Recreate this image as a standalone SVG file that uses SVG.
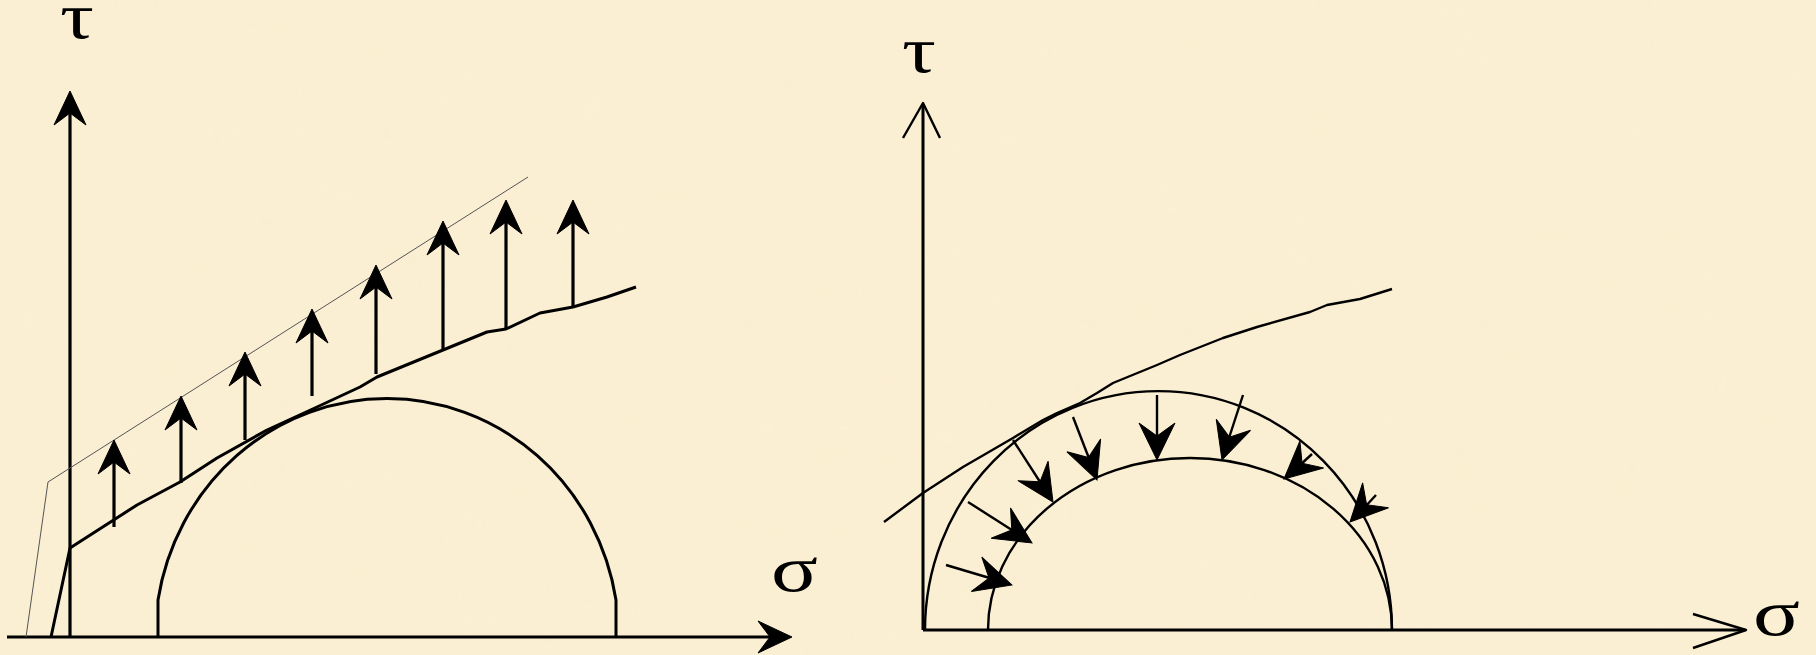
<svg xmlns="http://www.w3.org/2000/svg" width="1816" height="655" viewBox="0 0 1816 655">
<style>
.ln{fill:none;stroke:#000;stroke-linejoin:round;stroke-linecap:butt}
.ax{stroke-width:3.2}
.th{stroke-width:3}
.tn{stroke-width:2.4}
.thin{fill:none;stroke:#555;stroke-width:1}
.hd{fill:#000;stroke:#000;stroke-width:1;stroke-linejoin:miter}
.lbl{font-family:"Liberation Serif","Times New Roman",serif;font-size:66px;fill:#000}
</style>
<defs>
<path id="head" d="M0,0 L-34,-16 L-22,0 L-34,16 Z"/>
<path id="headR" d="M0,0 L-37,-18 L-24,0 L-37,18 Z"/>
<filter id="tex" x="0" y="0" width="100%" height="100%">
<feTurbulence type="fractalNoise" baseFrequency="0.012" numOctaves="3" seed="4"/>
<feColorMatrix type="matrix" values="0 0 0 0 0.93  0 0 0 0 0.84  0 0 0 0 0.66  0 0 0 0.9 -0.35"/>
</filter>
</defs>
<rect width="1816" height="655" fill="#FBEFD3"/>
<rect width="1816" height="655" filter="url(#tex)" opacity="0.5"/>

<g id="left-diagram">
<g id="left-axes">
<line class="ln ax" x1="7" y1="637" x2="775" y2="637"/>
<use href="#head" class="hd" transform="translate(792,637)"/>
<line class="ln ax" x1="70" y1="637" x2="70" y2="110"/>
<use href="#head" class="hd" transform="translate(70,91) rotate(-90)"/>
<text class="lbl" transform="translate(60,38) scale(1.28,1)">τ</text>
<text class="lbl" transform="translate(771,591) scale(1.32,1)">σ</text>
</g>
<g id="left-thin-envelope">
<polyline class="thin" points="26,637 48,482 528,177"/>
</g>
<g id="left-envelope">
<polyline class="ln th" points="51,637 70,548 137,505 180,482 217,458 267,430 317,407 360,387 377,377 443,350 487,332 506,329 540,313 573,307 607,297 636,287"/>
</g>
<g id="left-circle">
<path class="ln th" d="M158,637 V600 A232,240 0 0 1 616,600 V637"/>
</g>
<g id="left-arrows">
<line class="ln ax" x1="114" y1="527" x2="114" y2="460"/><use href="#head" class="hd" transform="translate(114,440) rotate(-90)"/>
<line class="ln ax" x1="181" y1="483" x2="181" y2="416"/><use href="#head" class="hd" transform="translate(181,396) rotate(-90)"/>
<line class="ln ax" x1="245" y1="440" x2="245" y2="372"/><use href="#head" class="hd" transform="translate(245,352) rotate(-90)"/>
<line class="ln ax" x1="312" y1="396" x2="312" y2="329"/><use href="#head" class="hd" transform="translate(312,309) rotate(-90)"/>
<line class="ln ax" x1="376" y1="374" x2="376" y2="285"/><use href="#head" class="hd" transform="translate(376,265) rotate(-90)"/>
<line class="ln ax" x1="443" y1="351" x2="443" y2="241"/><use href="#head" class="hd" transform="translate(443,221) rotate(-90)"/>
<line class="ln ax" x1="506" y1="329" x2="506" y2="220"/><use href="#head" class="hd" transform="translate(506,200) rotate(-90)"/>
<line class="ln ax" x1="573" y1="307" x2="573" y2="220"/><use href="#head" class="hd" transform="translate(573,200) rotate(-90)"/>
</g>
</g>

<g id="right-diagram">
<g id="right-axes">
<polyline class="ln th" points="923,630 923,104"/>
<polyline class="ln tn" points="903,138 923,103 940,138"/>
<polyline class="ln th" points="923,630 1745,630"/>
<polyline class="ln tn" points="1693,614 1746,630 1693,648"/>
<text class="lbl" transform="translate(902,72) scale(1.28,1)">τ</text>
<text class="lbl" transform="translate(1753,635) scale(1.32,1)">σ</text>
</g>
<g id="right-envelope">
<polyline class="ln tn" points="884,522 923,493 963,467 1013,438 1043,420 1057,413 1080,403 1097,393 1113,383 1157,365 1180,355 1223,338 1257,327 1310,312 1327,305 1360,299 1392,289"/>
</g>
<g id="right-outer-circle">
<path class="ln tn" d="M925,630 A233.5,239 0 0 1 1392,630"/>
</g>
<g id="right-inner-circle">
<path class="ln tn" d="M988,630 A202,172 0 0 1 1392,630"/>
</g>
<g id="right-arrows">
<line class="ln tn" x1="1013" y1="440" x2="1042" y2="485"/><use href="#headR" class="hd" transform="translate(1053,502) rotate(57.2)"/>
<line class="ln tn" x1="1073" y1="417" x2="1090" y2="461"/><use href="#headR" class="hd" transform="translate(1097,480) rotate(69.1)"/>
<line class="ln tn" x1="1157" y1="395" x2="1157" y2="440"/><use href="#headR" class="hd" transform="translate(1157,460) rotate(90)"/>
<line class="ln tn" x1="1243" y1="395" x2="1228" y2="441"/><use href="#headR" class="hd" transform="translate(1222,460) rotate(107.9)"/>
<line class="ln tn" x1="1312" y1="454" x2="1299" y2="466"/><use href="#headR" class="hd" transform="translate(1284,479) rotate(138.7)"/>
<line class="ln tn" x1="1376" y1="495" x2="1364" y2="508"/><use href="#headR" class="hd" transform="translate(1350,522) rotate(133.8)"/>
<line class="ln tn" x1="968" y1="502" x2="1015" y2="532"/><use href="#headR" class="hd" transform="translate(1032,543) rotate(32.6)"/>
<line class="ln tn" x1="946" y1="565" x2="993" y2="579"/><use href="#headR" class="hd" transform="translate(1012,585) rotate(16.9)"/>
</g>
</g>
</svg>
